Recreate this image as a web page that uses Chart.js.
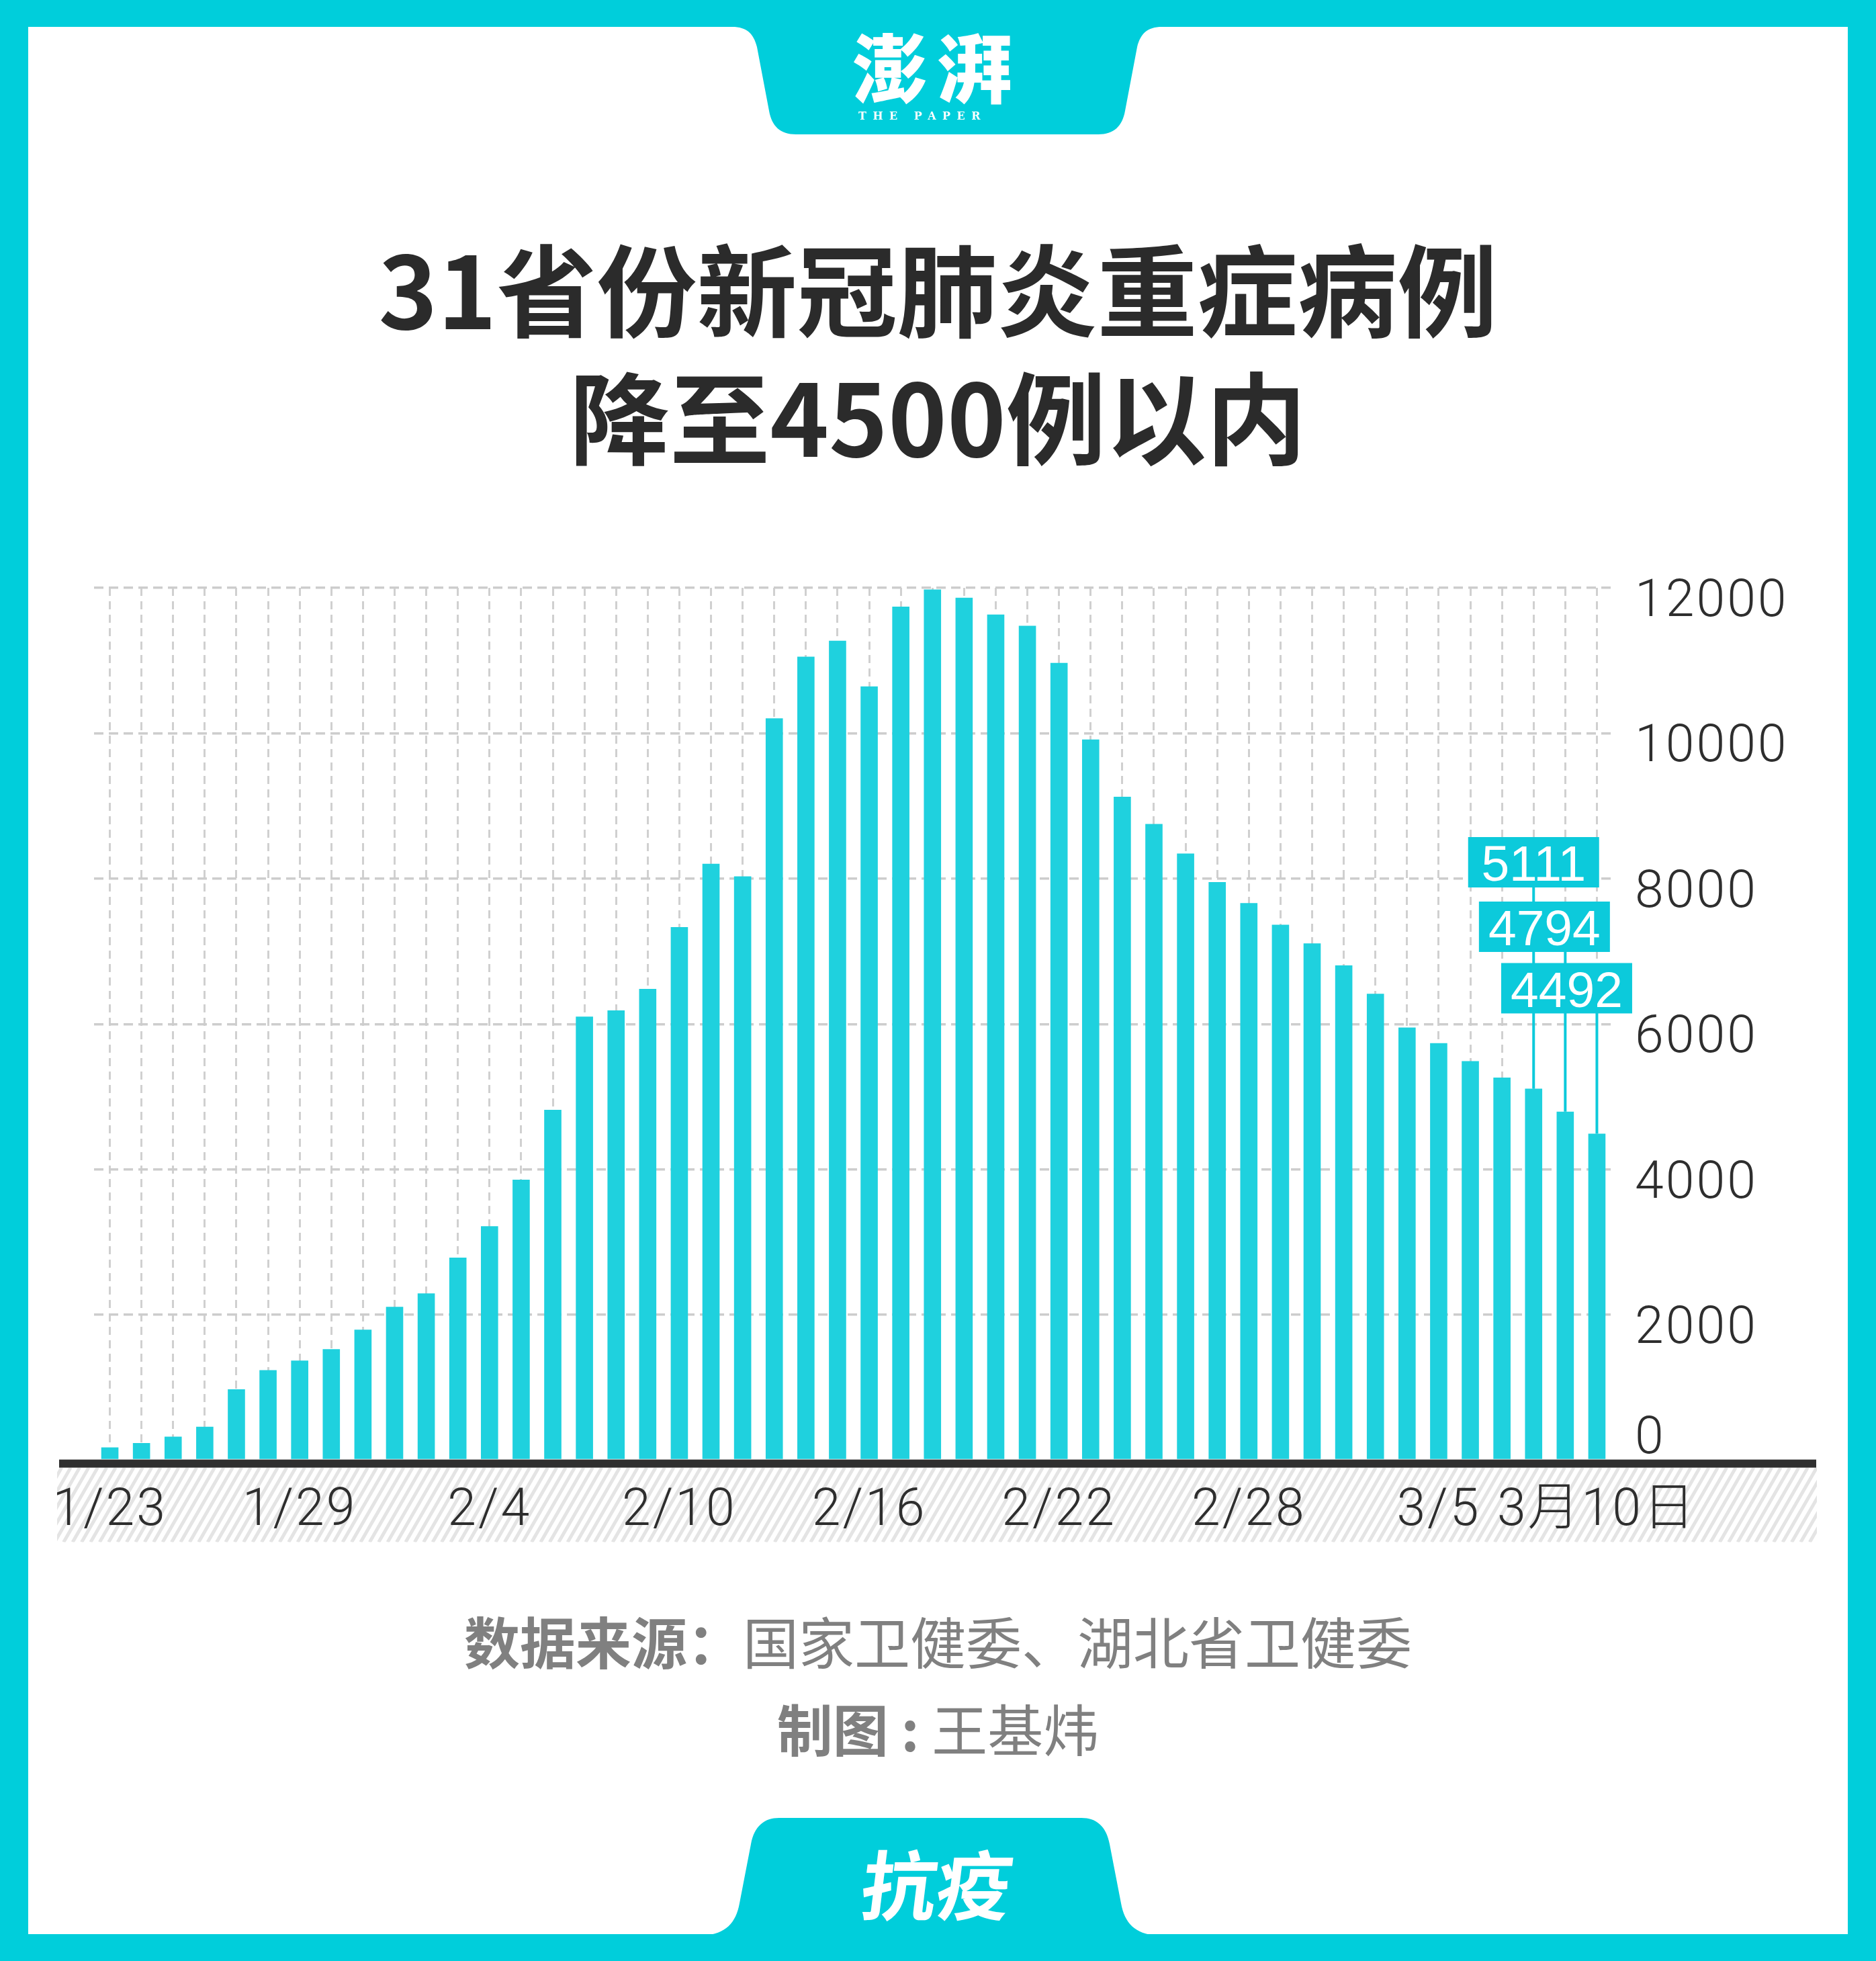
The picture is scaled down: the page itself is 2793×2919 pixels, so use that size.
<!DOCTYPE html>
<html>
<head>
<meta charset="utf-8">
<script src="https://cdn.jsdelivr.net/npm/chart.js@4.4.1/dist/chart.umd.min.js"></script>
<style>
html,body{margin:0;padding:0;background:#fff;}
#page{position:relative;width:2793px;height:2919px;overflow:hidden;background:#fff;font-family:"Noto Sans CJK SC","Noto Sans",sans-serif;}
#chartBox{position:absolute;left:0;top:0;width:2793px;height:2919px;}
#frame{position:absolute;left:0;top:0;width:2793px;height:2919px;box-sizing:border-box;border-style:solid;border-color:#00cedb;border-width:40px 42px 40px 42px;pointer-events:none;}
#tabs{position:absolute;left:0;top:0;}
#title{position:absolute;left:0;top:330px;width:2793px;text-align:center;font-size:149px;line-height:190px;font-weight:700;color:#2b2b2b;}
#source{position:absolute;left:0;top:2376px;width:2793px;text-align:center;font-size:83px;line-height:130px;color:#808080;font-weight:400;}
#source b{font-weight:700;}
#logo{position:absolute;left:1395px;top:40px;transform:translateX(-50%);font-size:112px;line-height:112px;font-weight:900;color:#fff;white-space:nowrap;letter-spacing:14px;}
#logoEn{position:absolute;left:1278px;top:164px;font-family:"DejaVu Serif",serif;font-weight:700;font-size:16px;line-height:18px;letter-spacing:9.5px;color:#fff;white-space:nowrap;}
#theme{position:absolute;left:1396px;top:2740px;transform:translateX(-50%) skewX(-7deg);font-size:112px;line-height:120px;font-weight:700;color:#fff;white-space:nowrap;}
</style>
</head>
<body>
<div id="page">
  <div id="chartBox"><canvas id="chart"></canvas></div>
  <div id="frame"></div>
  <svg id="tabs" width="2793" height="2919" viewBox="0 0 2793 2919">
    <path fill="#00cedb" d="M1090 38 L1090 40 C1112 40 1122 50 1127 70 L1145 165 C1149 188 1162 200 1185 200 L1635 200 C1658 200 1671 188 1675 165 L1693 70 C1698 50 1708 40 1730 40 L1730 38 Z"/>
    <path fill="#00cedb" d="M1048 2881 C1080 2879 1096 2862 1101 2833 L1118 2745 C1123 2718 1138 2706 1160 2706 L1610 2706 C1632 2706 1647 2718 1652 2745 L1669 2833 C1674 2862 1690 2879 1722 2881 Z"/>
  </svg>
  <div id="logo">澎湃</div>
  <div id="logoEn">THE PAPER</div>
  <div id="title">31省份新冠肺炎重症病例<br>降至4500例以内</div>
  <div id="source"><b>数据来源：</b>国家卫健委、湖北省卫健委<br><b>制图 :</b> 王基炜</div>
  <div id="theme">抗疫</div>
</div>
<script>
// ---- data ----
const categories = [
  '1/23','1/24','1/25','1/26','1/27','1/28','1/29','1/30','1/31',
  '2/1','2/2','2/3','2/4','2/5','2/6','2/7','2/8','2/9','2/10',
  '2/11','2/12','2/13','2/14','2/15','2/16','2/17','2/18','2/19','2/20',
  '2/21','2/22','2/23','2/24','2/25','2/26','2/27','2/28','2/29',
  '3/1','3/2','3/3','3/4','3/5','3/6','3/7','3/8','3/9','3/10'
];
const severeCases = [
  177, 237, 324, 461, 976, 1239, 1370, 1527, 1795,
  2110, 2296, 2788, 3219, 3859, 4821, 6101, 6188, 6484, 7333,
  8204, 8030, 10204, 11053, 11272, 10644, 11741, 11977, 11864, 11633,
  11477, 10968, 9915, 9126, 8752, 8346, 7952, 7664, 7365,
  7110, 6806, 6416, 5952, 5737, 5489, 5264, 5111, 4794, 4492
];
const yTickValues = [0, 2000, 4000, 6000, 8000, 10000, 12000];
const xTickCategories = ['1/23','1/29','2/4','2/10','2/16','2/22','2/28','3/5','3/10'];
const xTickLabels = ['1/23','1/29','2/4','2/10','2/16','2/22','2/28','3/5','3月10日'];
const calloutCategories = ['3/8','3/9','3/10'];

// ---- styles ----
const STYLE = {
  bar: '#1fd1de',
  callout: '#0ccadb',
  vgrid: '#d0d0d0',
  hgrid: '#cdcdcd',
  axis: '#2f2f2f',
  text: '#2e2e2e',
  hatch: '#e4e4e4',
  tickFont: 'Roboto, "Noto Sans CJK SC", sans-serif'
};
const calloutLayout = [
  {dx: 0, cy: 1283.5},
  {dx: -31, cy: 1379.5},
  {dx: -45, cy: 1471}
];

const decor = {
  id: 'decor',
  beforeDraw(chart) {
    const ctx = chart.ctx;
    const y0 = chart.scales.y.getPixelForValue(0);
    const top = y0 + 11, bottom = y0 + 122, left = 85, right = 2705;
    ctx.save();
    ctx.beginPath();
    ctx.rect(left, top, right - left, bottom - top);
    ctx.clip();
    ctx.strokeStyle = STYLE.hatch;
    ctx.lineWidth = 5;
    const h = bottom - top;
    const dx = h / Math.tan(60 * Math.PI / 180);
    for (let x = left - dx - 20; x < right + 20; x += 13.4) {
      ctx.beginPath();
      ctx.moveTo(x, bottom);
      ctx.lineTo(x + dx, top);
      ctx.stroke();
    }
    ctx.restore();
    // slightly wider tracking for the light axis labels
    ctx.letterSpacing = '3px';
  },
  afterDatasetsDraw(chart) {
    const ctx = chart.ctx;
    const y0 = chart.scales.y.getPixelForValue(0);
    ctx.save();
    ctx.letterSpacing = '0px';
    ctx.fillStyle = STYLE.axis;
    ctx.fillRect(88, y0 - 1, 2704 - 88, 12);

    const meta = chart.getDatasetMeta(0);
    ctx.strokeStyle = STYLE.callout;
    ctx.lineWidth = 4;
    calloutCategories.forEach((c, k) => {
      const bar = meta.data[categories.indexOf(c)];
      ctx.beginPath();
      ctx.moveTo(bar.x, calloutLayout[k].cy);
      ctx.lineTo(bar.x, bar.y);
      ctx.stroke();
    });
    ctx.font = '400 75px "Liberation Sans", Arial, sans-serif';
    ctx.textAlign = 'center';
    ctx.textBaseline = 'alphabetic';
    calloutCategories.forEach((c, k) => {
      const i = categories.indexOf(c);
      const bar = meta.data[i];
      const L = calloutLayout[k];
      const cx = bar.x + L.dx;
      ctx.fillStyle = STYLE.callout;
      ctx.fillRect(cx - 97.5, L.cy - 37.5, 195, 75);
      ctx.fillStyle = '#ffffff';
      ctx.fillText(String(severeCases[i]), cx, L.cy + 27.5);
    });
    ctx.restore();
  },
  afterDraw(chart) {
    const ctx = chart.ctx;
    const ys = chart.scales.y;
    ctx.save();
    ctx.letterSpacing = '3px';
    ctx.font = '300 77px ' + STYLE.tickFont;
    ctx.fillStyle = STYLE.text;
    ctx.textAlign = 'left';
    ctx.textBaseline = 'alphabetic';
    const x = chart.chartArea.right + 33;
    yTickValues.forEach(v => {
      const py = ys.getPixelForValue(v);
      ctx.fillText(String(v), x, v === 0 ? py - 11 : py + 42);
    });
    ctx.restore();
    ctx.letterSpacing = '0px';
  }
};

new Chart(document.getElementById('chart'), {
  type: 'bar',
  data: {
    labels: categories,
    datasets: [{
      data: severeCases,
      backgroundColor: STYLE.bar,
      borderWidth: 0,
      categoryPercentage: 1.0,
      barPercentage: 0.544
    }]
  },
  options: {
    responsive: true,
    maintainAspectRatio: false,
    animation: false,
    devicePixelRatio: 1,
    layout: {padding: {left: 140, right: 392, top: 875, bottom: 591}},
    plugins: {legend: {display: false}, tooltip: {enabled: false}},
    scales: {
      x: {
        offset: true,
        grid: {offset: false, color: STYLE.vgrid, lineWidth: 3, drawTicks: false},
        border: {display: false, dash: [12, 8]},
        ticks: {
          autoSkip: false, maxRotation: 0, minRotation: 0, padding: 31,
          color: STYLE.text,
          font: {family: STYLE.tickFont, size: 77, weight: '300'},
          callback: (v, i) => {
            const k = xTickCategories.indexOf(categories[i]);
            return k >= 0 ? xTickLabels[k] : '';
          }
        }
      },
      y: {
        position: 'right',
        min: 0,
        max: 12000,
        afterBuildTicks: s => { s.ticks = yTickValues.map(v => ({value: v})); },
        grid: {
          color: c => (c.tick && c.tick.value === 0) ? 'rgba(0,0,0,0)' : STYLE.hgrid,
          lineWidth: 3.5,
          drawTicks: false
        },
        border: {display: false, dash: [14, 8]},
        ticks: {display: false}
      }
    }
  },
  plugins: [decor]
});
</script>
</body>
</html>
